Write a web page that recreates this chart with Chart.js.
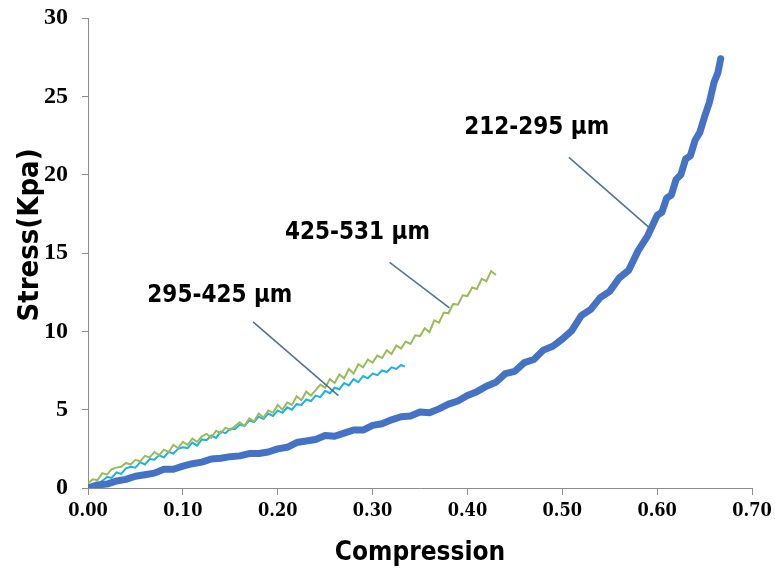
<!DOCTYPE html>
<html>
<head>
<meta charset="utf-8">
<script src="https://cdn.jsdelivr.net/npm/chart.js@4.4.1/dist/chart.umd.min.js"></script>
<style>
  html, body { margin: 0; padding: 0; background: #fff; }
  #wrap { width: 775px; height: 581px; }
</style>
</head>
<body>
<div id="wrap"><canvas id="stressChart" width="775" height="581"></canvas></div>
<script>
// 212-295 µm (thick blue)
const fineX = [0.00, 0.01, 0.02, 0.03, 0.04, 0.05, 0.06, 0.07, 0.08, 0.09,
  0.10, 0.11, 0.12, 0.13, 0.14, 0.15, 0.16, 0.17, 0.18, 0.19,
  0.20, 0.21, 0.22, 0.23, 0.24, 0.25, 0.26, 0.27, 0.28, 0.29,
  0.30, 0.31, 0.32, 0.33, 0.34, 0.35, 0.36, 0.37, 0.38, 0.39,
  0.40, 0.41, 0.42, 0.43, 0.44, 0.45, 0.46, 0.47, 0.48, 0.49,
  0.50, 0.51, 0.52, 0.53, 0.54, 0.55, 0.56, 0.57, 0.58, 0.59,
  0.60, 0.605, 0.61, 0.615, 0.62, 0.625, 0.63, 0.635, 0.64, 0.645,
  0.65, 0.655, 0.66, 0.664, 0.667]
const fineY = [0.0, 0.2, 0.25, 0.45, 0.55, 0.75, 0.85, 0.95, 1.2, 1.2,
  1.4, 1.55, 1.65, 1.85, 1.9, 2.0, 2.05, 2.2, 2.2, 2.3,
  2.5, 2.6, 2.9, 3.0, 3.1, 3.35, 3.3, 3.5, 3.7, 3.7,
  4.0, 4.1, 4.35, 4.55, 4.6, 4.85, 4.8, 5.05, 5.35, 5.55,
  5.9, 6.15, 6.5, 6.75, 7.3, 7.45, 8.0, 8.2, 8.8, 9.05,
  9.5, 10.05, 11.0, 11.4, 12.15, 12.55, 13.4, 13.9, 15.15, 16.1,
  17.4, 17.6, 18.5, 18.7, 19.7, 20.0, 21.0, 21.2, 22.2, 22.7,
  23.7, 24.6, 25.9, 26.5, 27.4]

// 295-425 µm (cyan)
const mediumX = [0.000, 0.005, 0.010, 0.015, 0.020, 0.025, 0.030, 0.035, 0.040, 0.045,
  0.050, 0.055, 0.060, 0.065, 0.070, 0.075, 0.080, 0.085, 0.090, 0.095,
  0.100, 0.105, 0.110, 0.115, 0.120, 0.125, 0.130, 0.135, 0.140, 0.145,
  0.150, 0.155, 0.160, 0.165, 0.170, 0.175, 0.180, 0.185, 0.190, 0.195,
  0.200, 0.205, 0.210, 0.215, 0.220, 0.225, 0.230, 0.235, 0.240, 0.245,
  0.250, 0.255, 0.260, 0.265, 0.270, 0.275, 0.280, 0.285, 0.290, 0.295,
  0.300, 0.305, 0.310, 0.315, 0.320, 0.325, 0.330, 0.334]
const mediumY = [0.0, 0.2, 0.25, 0.45, 0.7, 0.65, 1.0, 0.9, 1.25, 1.35,
  1.3, 1.65, 1.5, 1.85, 1.8, 2.1, 1.95, 2.3, 2.2, 2.5,
  2.6, 2.55, 2.9, 2.7, 3.1, 3.05, 3.35, 3.2, 3.6, 3.5,
  3.8, 3.75, 4.05, 3.95, 4.3, 4.2, 4.55, 4.4, 4.75, 4.6,
  4.95, 4.8, 5.15, 5.0, 5.35, 5.3, 5.65, 5.55, 5.9, 5.8,
  6.2, 6.05, 6.4, 6.3, 6.7, 6.55, 6.95, 6.75, 7.15, 7.0,
  7.3, 7.2, 7.5, 7.4, 7.7, 7.6, 7.85, 7.75]

// 425-531 µm (green)
const coarseX = [0.000, 0.005, 0.010, 0.015, 0.020, 0.025, 0.030, 0.035, 0.040, 0.045,
  0.050, 0.055, 0.060, 0.065, 0.070, 0.075, 0.080, 0.085, 0.090, 0.095,
  0.100, 0.105, 0.110, 0.115, 0.120, 0.125, 0.130, 0.135, 0.140, 0.145,
  0.150, 0.155, 0.160, 0.165, 0.170, 0.175, 0.180, 0.185, 0.190, 0.195,
  0.200, 0.205, 0.210, 0.215, 0.220, 0.225, 0.230, 0.235, 0.240, 0.245,
  0.250, 0.255, 0.260, 0.265, 0.270, 0.275, 0.280, 0.285, 0.290, 0.295,
  0.300, 0.305, 0.310, 0.315, 0.320, 0.325, 0.330, 0.335, 0.340, 0.345,
  0.350, 0.355, 0.360, 0.365, 0.370, 0.375, 0.380, 0.385, 0.390, 0.395,
  0.400, 0.405, 0.410, 0.415, 0.420, 0.425, 0.430]
const coarseY = [0.3, 0.55, 0.5, 0.95, 0.85, 1.2, 1.3, 1.35, 1.6, 1.5,
  1.8, 1.7, 2.05, 1.95, 2.3, 2.1, 2.45, 2.3, 2.75, 2.55,
  2.95, 2.75, 3.15, 2.95, 3.3, 3.45, 3.2, 3.65, 3.5, 3.85,
  3.7, 3.95, 4.2, 3.95, 4.45, 4.25, 4.75, 4.5, 4.95, 4.8,
  5.3, 5.0, 5.45, 5.3, 5.85, 5.6, 6.15, 5.9, 6.25, 6.6,
  6.4, 6.95, 6.7, 7.25, 7.0, 7.6, 7.3, 7.9, 7.7, 8.2,
  8.0, 8.45, 8.3, 8.8, 8.55, 9.1, 8.9, 9.35, 9.2, 9.75,
  9.7, 10.2, 9.95, 10.7, 10.55, 11.2, 11.15, 11.75, 11.7, 12.3,
  12.25, 12.8, 12.7, 13.35, 13.2, 13.85, 13.6]

const seriesNames = ['212-295 µm', '295-425 µm', '425-531 µm']
const seriesColors = ['#4472c4', '#1cb1e6', '#9bbb59']

// callout: label anchor [x, y] and leader line ends, in data units
const calloutText = [[0.473, 23.0], [0.139, 12.3], [0.284, 16.3]]
const calloutLine = [
  [[0.507, 21.1], [0.592, 16.6]],
  [[0.174, 10.6], [0.264, 5.9]],
  [[0.318, 14.4], [0.381, 11.5]]
]

const xTicks = [0, 0.1, 0.2, 0.3, 0.4, 0.5, 0.6, 0.7]
const yTicks = [0, 5, 10, 15, 20, 25, 30]

const toPoints = (xs, ys) => xs.map((x, i) => ({ x: x, y: ys[i] }))

const labelFont = "'DejaVu Sans Condensed', 'DejaVu Sans', sans-serif"

const calloutPlugin = {
  id: 'callouts',
  afterDatasetsDraw(chart) {
    const ctx = chart.ctx
    const sx = chart.scales.x
    const sy = chart.scales.y
    ctx.save()
    ctx.strokeStyle = '#4f7596'
    ctx.lineWidth = 1.6
    calloutLine.forEach(seg => {
      ctx.beginPath()
      ctx.moveTo(sx.getPixelForValue(seg[0][0]), sy.getPixelForValue(seg[0][1]))
      ctx.lineTo(sx.getPixelForValue(seg[1][0]), sy.getPixelForValue(seg[1][1]))
      ctx.stroke()
    })
    ctx.fillStyle = '#000'
    ctx.font = 'bold 24px ' + labelFont
    ctx.textAlign = 'center'
    ctx.textBaseline = 'middle'
    calloutText.forEach((p, i) => {
      ctx.fillText(seriesNames[i], sx.getPixelForValue(p[0]), sy.getPixelForValue(p[1]))
    })

    // y axis title, a little above the middle of the plot as in the original
    ctx.save()
    ctx.translate(30, (chart.chartArea.top + chart.chartArea.bottom) / 2 - 18)
    ctx.rotate(-Math.PI / 2)
    ctx.font = 'bold 29px ' + labelFont
    ctx.fillText('Stress(Kpa)', 0, 0)
    ctx.restore()
    ctx.restore()
  }
}

const el = document.getElementById('stressChart')
const chart = new Chart(el, {
  type: 'line',
  data: {
    datasets: [
      {
        label: seriesNames[0],
        data: toPoints(fineX, fineY),
        borderColor: seriesColors[0],
        borderWidth: 7,
        pointRadius: 0,
        tension: 0,
        borderCapStyle: 'round',
        borderJoinStyle: 'round'
      },
      {
        label: seriesNames[2],
        data: toPoints(coarseX, coarseY),
        borderColor: seriesColors[2],
        borderWidth: 2,
        pointRadius: 0,
        tension: 0
      },
      {
        label: seriesNames[1],
        data: toPoints(mediumX, mediumY),
        borderColor: seriesColors[1],
        borderWidth: 2,
        pointRadius: 0,
        tension: 0
      }
    ]
  },
  options: {
    responsive: false,
    animation: false,
    layout: { padding: { top: 18, right: 23, left: 0, bottom: 0 } },
    plugins: {
      legend: { display: false },
      tooltip: { enabled: false }
    },
    scales: {
      x: {
        type: 'linear',
        min: 0,
        max: 0.7,
        afterBuildTicks: axis => { axis.ticks = xTicks.map(v => ({ value: v })) },
        afterFit: axis => {
          axis.height = 93
          axis.paddingLeft = 0
          axis.paddingRight = 0
        },
        grid: { drawOnChartArea: false, drawTicks: true, tickLength: 7, color: '#8c8c8c' },
        border: { color: '#8c8c8c', width: 1 },
        ticks: {
          color: '#000',
          padding: 6,
          font: { family: "'DejaVu Serif Condensed', 'DejaVu Serif', serif", weight: 'bold', size: 18 },
          callback: v => Number(v).toFixed(2)
        },
        title: {
          display: true,
          text: 'Compression',
          color: '#000',
          padding: { top: 0, bottom: 12 },
          font: { family: labelFont, weight: 'bold', size: 26 }
        }
      },
      y: {
        type: 'linear',
        min: 0,
        max: 30,
        afterBuildTicks: axis => { axis.ticks = yTicks.map(v => ({ value: v })) },
        afterFit: axis => {
          axis.width = 88
          axis.paddingTop = 0
          axis.paddingBottom = 0
        },
        grid: { drawOnChartArea: false, drawTicks: true, tickLength: 6, color: '#8c8c8c' },
        border: { color: '#8c8c8c', width: 1 },
        ticks: {
          color: '#000',
          padding: 14,
          font: { family: "'Liberation Serif', serif", weight: 'bold', size: 24 }
        }
      }
    }
  },
  plugins: [calloutPlugin]
})
</script>
</body>
</html>
